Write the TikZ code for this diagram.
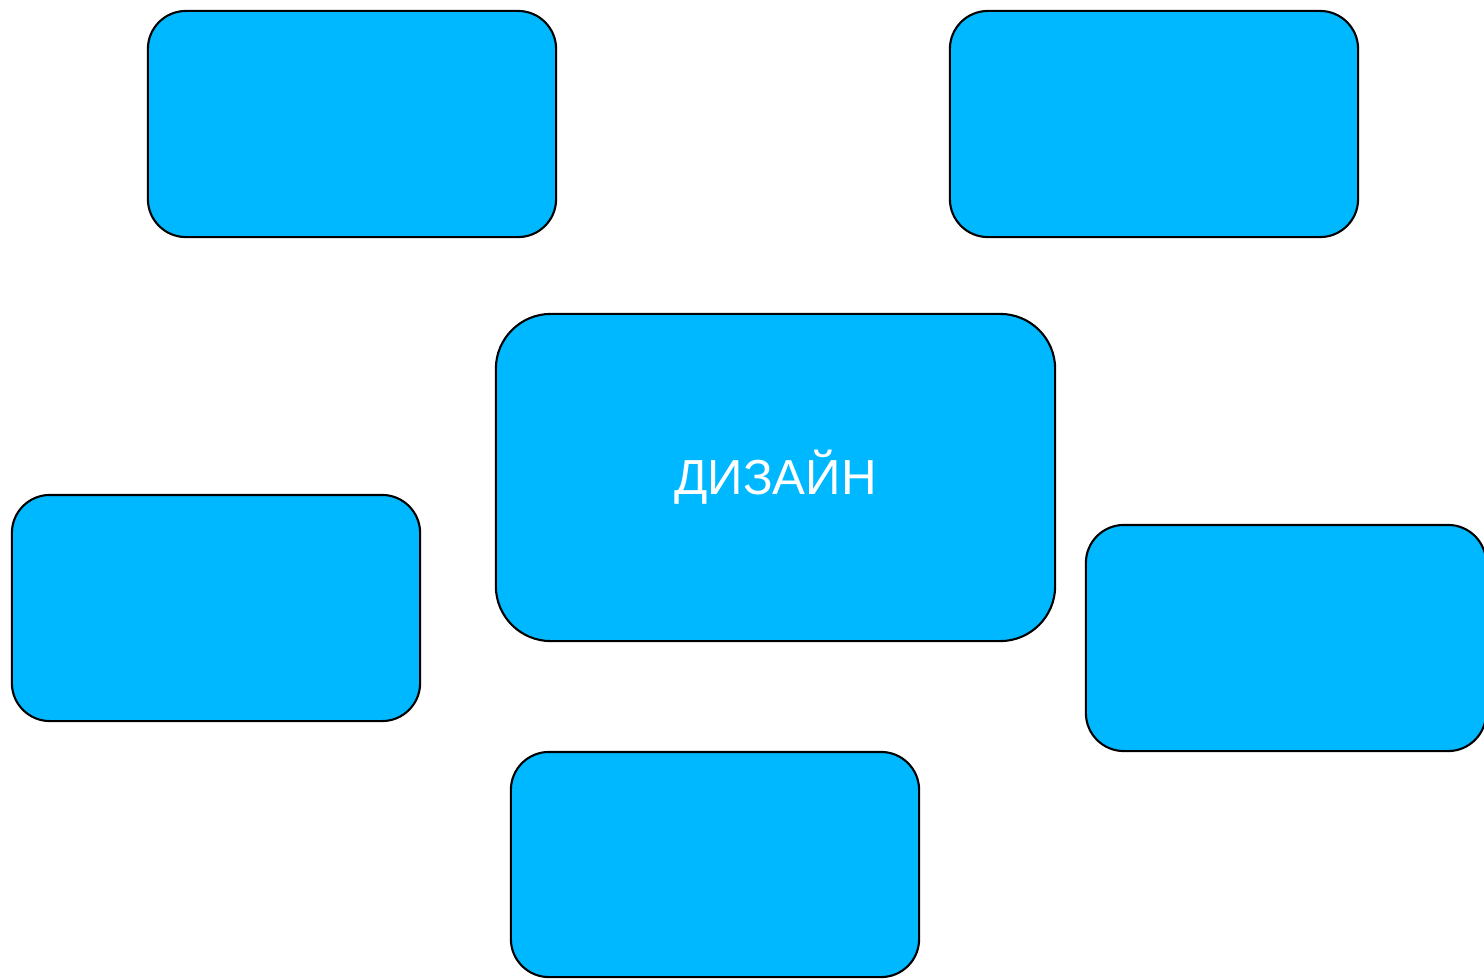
\documentclass[tikz,border=0pt]{standalone}
\usepackage{fontspec}
\setmainfont{Liberation Sans}
\usepackage{xcolor}
\definecolor{boxblue}{RGB}{0,184,255}

\begin{document}
\begin{tikzpicture}[x=0.01cm, y=-0.01cm, font=\fontsize{14}{17}\selectfont,
    blob/.style={draw=black, fill=boxblue, rounded corners=0.38cm, line width=0.6pt,
        minimum width=4.08cm, minimum height=2.26cm, inner sep=0pt},
    hub/.style={blob, rounded corners=0.55cm, minimum width=5.59cm, minimum height=3.27cm, text=white}]
            \useasboundingbox (0,0) rectangle (1484,978);

            \node[hub] (design) at (775.5,477.5) {ДИЗАЙН};

            \node[blob] (topleft) at (352,124) {};
            \node[blob] (topright) at (1154,124) {};

            \node[blob] (left) at (216,608) {};
            \node[blob, minimum width=4.0cm] (right) at (1286,638) {};

            \node[blob, minimum height=2.25cm] (bottom) at (715,864.5) {};
        \end{tikzpicture}
\end{document}
